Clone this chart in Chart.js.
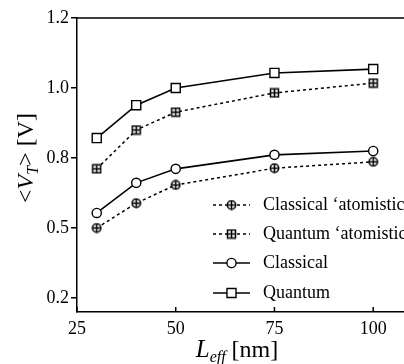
<!DOCTYPE html>
<html lang="en">
<head>
    <meta charset="UTF-8">
    <title>Threshold voltage vs effective channel length</title>
    <script src="https://cdn.jsdelivr.net/npm/chart.js"></script>
    <style>
        html, body {
            margin: 0;
            padding: 0;
            background: #fff;
        }
        .chart-box {
            position: relative;
            width: 404px;
            height: 364px;
        }
    </style>
</head>
<body>
    <div class="chart-box">
        <canvas id="vtChart" width="404" height="364"></canvas>
    </div>

    <script>
        // data (y on the plot's own linear scale)
        const lengths = [30, 40, 50, 75, 100];
        const classicalAtomistic = [0.600, 0.671, 0.723, 0.771, 0.789];
        const quantumAtomistic = [0.769, 0.880, 0.931, 0.986, 1.014];
        const classical = [0.643, 0.729, 0.769, 0.809, 0.820];
        const quantum = [0.857, 0.951, 1.000, 1.043, 1.054];
        const seriesNames = ['Classical \u2018atomistic', 'Quantum \u2018atomistic', 'Classical', 'Quantum'];

        const xTickValues = [25, 50, 75, 100];
        const yTickValues = [0.4, 0.6, 0.8, 1.0, 1.2];
        const yTickLabels = ['0.2', '0.5', '0.8', '1.0', '1.2'];

        const serif = "'Liberation Serif', 'DejaVu Serif', serif";

        // open markers with a cross inside (the 'atomistic' curves)
        function crossMarker(shape) {
            const c = document.createElement('canvas');
            c.width = 11;
            c.height = 11;
            const g = c.getContext('2d');
            g.fillStyle = '#fff';
            g.strokeStyle = '#000';
            g.lineWidth = 1.5;
            g.beginPath();
            if (shape === 'circle') {
                g.arc(5.5, 5.5, 4.2, 0, Math.PI * 2);
            } else {
                g.rect(1.5, 1.5, 8, 8);
            }
            g.fill();
            g.stroke();
            g.beginPath();
            g.moveTo(1.5, 5.5); g.lineTo(9.5, 5.5);
            g.moveTo(5.5, 1.5); g.lineTo(5.5, 9.5);
            g.stroke();
            return c;
        }

        const pts = (ys) => lengths.map((x, i) => ({ x: x, y: ys[i] }));

        const baseSet = {
            borderColor: '#000',
            pointBorderColor: '#000',
            pointBackgroundColor: '#fff',
            tension: 0,
            fill: false
        };

        const datasets = [
            Object.assign({}, baseSet, {
                label: seriesNames[0], data: pts(classicalAtomistic),
                borderWidth: 1.5, borderDash: [3, 3],
                pointStyle: crossMarker('circle'), pointRadius: 5
            }),
            Object.assign({}, baseSet, {
                label: seriesNames[1], data: pts(quantumAtomistic),
                borderWidth: 1.5, borderDash: [3, 3],
                pointStyle: crossMarker('rect'), pointRadius: 5
            }),
            Object.assign({}, baseSet, {
                label: seriesNames[2], data: pts(classical),
                borderWidth: 1.6,
                pointStyle: 'circle', pointRadius: 4.6, pointBorderWidth: 1.4
            }),
            Object.assign({}, baseSet, {
                label: seriesNames[3], data: pts(quantum),
                borderWidth: 1.6,
                pointStyle: 'rect', pointRadius: 6.4, pointBorderWidth: 1.4
            })
        ];

        // frame top, inward x ticks, axis titles with subscripts, and the inset legend
        const extras = {
            id: 'extras',
            afterDraw(chart) {
                const ctx = chart.ctx;
                const area = chart.chartArea;
                const xs = chart.scales.x;
                ctx.save();
                ctx.strokeStyle = '#000';
                ctx.lineWidth = 1.5;
                ctx.setLineDash([]);
                ctx.beginPath();
                ctx.moveTo(area.left, area.top);
                ctx.lineTo(area.right, area.top);
                xTickValues.forEach(v => {
                    const px = xs.getPixelForValue(v);
                    ctx.moveTo(px, area.bottom);
                    ctx.lineTo(px, area.bottom - 5);
                });
                ctx.stroke();

                ctx.fillStyle = '#000';
                ctx.textBaseline = 'alphabetic';

                // x title: L_eff [nm]
                const big = 'italic 25px ' + serif;
                const sub = 'italic 16px ' + serif;
                const rest = '24px ' + serif;
                ctx.font = big; const wL = ctx.measureText('L').width;
                ctx.font = sub; const wE = ctx.measureText('eff').width;
                ctx.font = rest; const wR = ctx.measureText(' [nm]').width;
                let x0 = 237 - (wL + wE + wR) / 2;
                const by = 357;
                ctx.font = big; ctx.fillText('L', x0, by); x0 += wL;
                ctx.font = sub; ctx.fillText('eff', x0, by + 5); x0 += wE;
                ctx.font = rest; ctx.fillText(' [nm]', x0, by);

                // y title: <V_T> [V]
                ctx.save();
                ctx.translate(33, 158);
                ctx.rotate(-Math.PI / 2);
                const parts = [
                    ['<', '24px ' + serif, 0],
                    ['V', 'italic 24px ' + serif, 0],
                    ['T', 'italic 16px ' + serif, 5],
                    ['> [V]', '24px ' + serif, 0]
                ];
                let total = 0;
                parts.forEach(p => { ctx.font = p[1]; total += ctx.measureText(p[0]).width; });
                let tx = -total / 2;
                parts.forEach(p => {
                    ctx.font = p[1];
                    ctx.fillText(p[0], tx, p[2]);
                    tx += ctx.measureText(p[0]).width;
                });
                ctx.restore();

                // legend
                const rows = [205, 234, 263, 293];
                ctx.font = '18px ' + serif;
                ctx.textBaseline = 'middle';
                chart.data.datasets.forEach((ds, i) => {
                    const y = rows[i];
                    ctx.lineWidth = ds.borderWidth;
                    ctx.setLineDash(ds.borderDash || []);
                    ctx.beginPath();
                    ctx.moveTo(213, y);
                    ctx.lineTo(250, y);
                    ctx.stroke();
                    ctx.setLineDash([]);
                    ctx.fillStyle = '#fff';
                    ctx.lineWidth = ds.pointBorderWidth || 1.4;
                    Chart.helpers.drawPoint(ctx, {
                        pointStyle: ds.pointStyle,
                        radius: ds.pointRadius,
                        borderWidth: ds.pointBorderWidth || 1.4,
                        rotation: 0
                    }, 231.5, y);
                    ctx.fillStyle = '#000';
                    ctx.fillText(ds.label, 263, y);
                });
                ctx.restore();
            }
        };

        new Chart(document.getElementById('vtChart'), {
            type: 'line',
            data: { datasets: datasets },
            options: {
                responsive: false,
                devicePixelRatio: 1,
                animation: false,
                events: [],
                layout: { autoPadding: false, padding: { top: 18, right: 0, left: 0, bottom: 0 } },
                scales: {
                    x: {
                        type: 'linear',
                        min: 25,
                        max: 107.8,
                        afterBuildTicks: s => { s.ticks = xTickValues.map(v => ({ value: v })); },
                        afterFit: s => {
                            s.height = 52;
                            s.paddingLeft = 0;
                            s.paddingRight = 0;
                        },
                        ticks: {
                            color: '#000',
                            font: { family: serif, size: 18 },
                            padding: 6,
                            maxRotation: 0,
                            autoSkip: false
                        },
                        grid: { drawOnChartArea: false, drawTicks: false },
                        border: { color: '#000', width: 1.5 }
                    },
                    y: {
                        type: 'linear',
                        min: 0.36,
                        max: 1.2,
                        afterBuildTicks: s => { s.ticks = yTickValues.map(v => ({ value: v })); },
                        afterFit: s => {
                            s.width = 77;
                            s.paddingTop = 0;
                            s.paddingBottom = 0;
                        },
                        ticks: {
                            color: '#000',
                            font: { family: serif, size: 18 },
                            padding: 2,
                            callback: (v, i) => yTickLabels[i]
                        },
                        grid: { drawOnChartArea: false, tickLength: 6, color: '#000', lineWidth: 1.5 },
                        border: { color: '#000', width: 1.5 }
                    }
                },
                plugins: {
                    legend: { display: false },
                    tooltip: { enabled: false }
                }
            },
            plugins: [extras]
        });
    </script>
</body>
</html>
